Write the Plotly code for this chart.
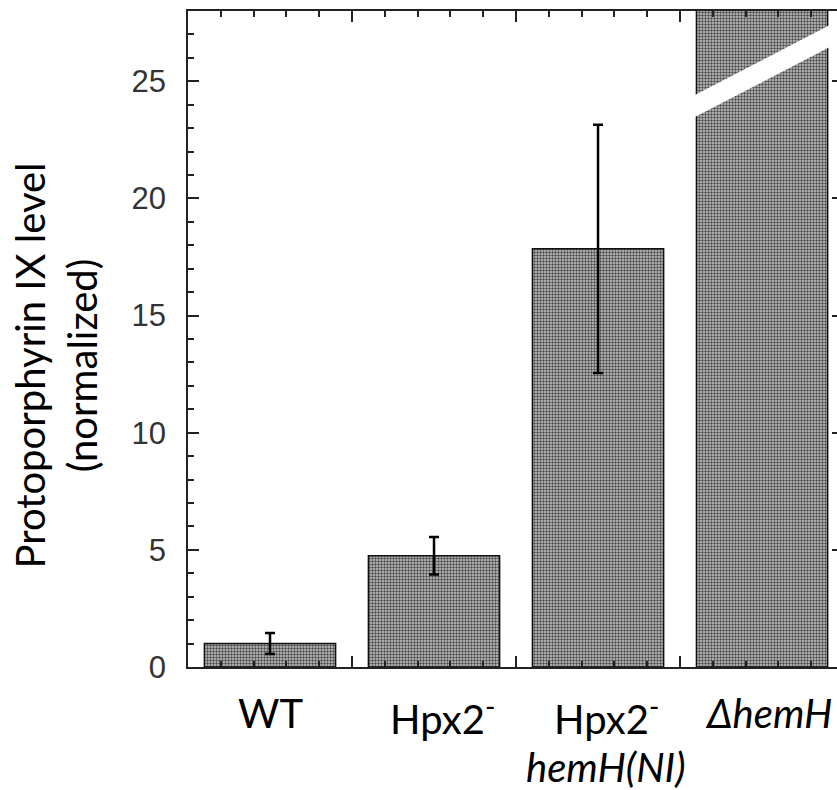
import plotly.graph_objects as go

# Protoporphyrin IX levels per strain (normalized to WT)
strains = ["WT", "Hpx2-", "Hpx2- hemH(NI)", "ΔhemH"]
label_line1 = ["WT", "Hpx2<sup>-</sup>", "Hpx2<sup>-</sup>", "<i>ΔhemH</i>"]
label_line2 = ["", "", "<i>hemH(NI)</i>", ""]
ppix_level = [1.0, 4.75, 17.85, 40.0]   # ΔhemH runs off the scale (broken bar)
ppix_error = [0.45, 0.8, 5.3, 0.0]

x_pos = list(range(len(strains)))
y_max = 28

fig = go.Figure()

fig.add_trace(go.Bar(
    x=x_pos,
    y=ppix_level,
    width=0.8,
    marker=dict(
        color="#8a8a8a",
        line=dict(color="#111111", width=1.5),
        pattern=dict(shape=".", size=3, solidity=0.5,
                     fgcolor="#4a4a4a", bgcolor="#c8c8c8",
                     fillmode="replace"),
    ),
    error_y=dict(type="data", array=ppix_error, visible=True,
                 color="#000000", thickness=2.5, width=5),
    showlegend=False,
    hoverinfo="skip",
))

# empty trace so the right-hand tick axis gets drawn
fig.add_trace(go.Scatter(x=[None], y=[None], yaxis="y2",
                         showlegend=False, hoverinfo="skip"))

# white diagonal gap marking the axis break on the ΔhemH bar
brk = 3
xl, xr = brk - 0.46, brk + 0.46
c_left, c_right = 23.76, 27.1
half_t = 0.47
fig.add_shape(
    type="path",
    path=(f"M {xl},{c_left - half_t} L {xr},{c_right - half_t} "
          f"L {xr},{c_right + half_t} L {xl},{c_left + half_t} Z"),
    xref="x", yref="y",
    fillcolor="white", line=dict(width=0), layer="above",
)

axis_col = "#222222"
fig.update_layout(
    width=837, height=790,
    margin=dict(l=188, r=0, t=11, b=123),
    paper_bgcolor="white", plot_bgcolor="white",
    xaxis=dict(
        range=[-0.5, 3.457],
        tickmode="array", tickvals=[0.5, 1.5, 2.5], showticklabels=False,
        ticks="inside", ticklen=11, tickwidth=1.5, tickcolor=axis_col,
        minor=dict(tickmode="linear", tick0=-0.5, dtick=0.2,
                   ticks="inside", ticklen=6, tickwidth=1.5,
                   tickcolor=axis_col),
        showline=True, linecolor=axis_col, linewidth=1.5,
        mirror="ticks", showgrid=False, zeroline=False, fixedrange=True,
    ),
    yaxis=dict(
        range=[0, y_max],
        tickmode="linear", tick0=0, dtick=5,
        ticks="inside", ticklen=11, tickwidth=1.5, tickcolor=axis_col,
        minor=dict(tickmode="linear", tick0=0, dtick=1,
                   ticks="inside", ticklen=6, tickwidth=1.5,
                   tickcolor=axis_col),
        ticklabelstandoff=14,
        tickfont=dict(family="Liberation Sans, Arial, sans-serif",
                      size=31, color="#333333"),
        showline=True, linecolor=axis_col, linewidth=1.5,
        mirror=False, showgrid=False, zeroline=False, fixedrange=True,
    ),
    yaxis2=dict(
        range=[0, y_max], overlaying="y", side="right", anchor="x",
        tickmode="linear", tick0=0, dtick=5,
        ticks="inside", ticklen=5, tickwidth=1.5, tickcolor=axis_col,
        showticklabels=False, showline=False, showgrid=False,
        zeroline=False, fixedrange=True,
    ),
)

# category labels under the bars (two rows)
label_font = dict(family="Lato, Open Sans, sans-serif", size=40,
                  color="#000000")
label_shift = [0, 8, 8, 6]
for xi, t1, t2, sh in zip(x_pos, label_line1, label_line2, label_shift):
    for txt, dy in ((t1, -20), (t2, -74)):
        if not txt:
            continue
        fig.add_annotation(
            x=xi, y=0, xref="x", yref="paper",
            xanchor="center", yanchor="top",
            xshift=sh, yshift=dy,
            text=txt, showarrow=False, font=label_font,
        )

# y-axis title
fig.add_annotation(
    x=-0.204, y=0.459, xref="paper", yref="paper",
    xanchor="center", yanchor="middle",
    text="Protoporphyrin IX level<br>(normalized)",
    textangle=-90, showarrow=False,
    font=dict(family="Lato, Open Sans, sans-serif", size=40,
              color="#000000"),
)

fig.write_html("out.html")
